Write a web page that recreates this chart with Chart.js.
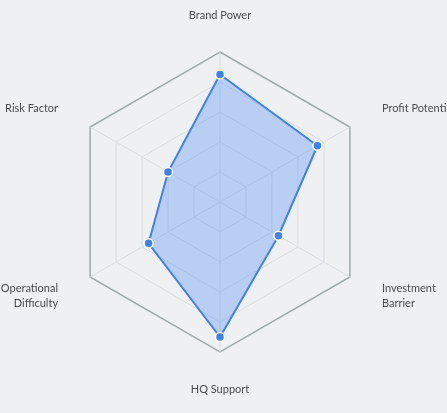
<!DOCTYPE html>
<html>
<head>
<meta charset="utf-8">
<script src="https://cdn.jsdelivr.net/npm/chart.js@4.4.1/dist/chart.umd.min.js"></script>
<style>
  html, body { margin: 0; padding: 0; background: #eef0f2; overflow: hidden; }
  #wrap { width: 447px; height: 413px; }
</style>
</head>
<body>
<div id="wrap"><canvas id="RadarChart"></canvas></div>
<script>
var labels = ["Brand Power", "Profit Potential", ["Investment", "Barrier"], "HQ Support", ["Operational", "Difficulty"], "Risk Factor"];
var scores = [85, 75, 45, 90, 55, 40];
var scaleMin = 0;
var scaleMax = 100;
var scaleStep = 20;

// labels drawn like the original: anchored on the axis end, vertically centred
var axisNames = {
  id: "axisNames",
  afterDraw: function (chart) {
    var s = chart.scales.r;
    var ctx = chart.ctx;
    var lh = 15;
    ctx.save();
    ctx.font = "11px Lato";
    ctx.fillStyle = "#4a4c4f";
    ctx.textBaseline = "middle";
    for (var i = 0; i < labels.length; i++) {
      var p = s.getPointPosition(i, s.drawingArea + 37);
      var dx = p.x - s.xCenter;
      ctx.textAlign = Math.abs(dx) < 1 ? "center" : (dx > 0 ? "left" : "right");
      var lines = Array.isArray(labels[i]) ? labels[i] : [labels[i]];
      var y0 = p.y - (lines.length - 1) * lh / 2;
      for (var j = 0; j < lines.length; j++) {
        ctx.fillText(lines[j], p.x, y0 + j * lh);
      }
    }
    ctx.restore();
  }
};

var ctx = document.getElementById("RadarChart").getContext("2d");
var chart = new Chart(ctx, {
  type: "radar",
  data: {
    labels: labels,
    datasets: [
      {
        label: "Score",
        data: scores,
        borderColor: "#3b82f6",
        backgroundColor: "rgba(59, 130, 246, 0.3)",
        borderWidth: 2,
        pointBackgroundColor: "#3b82f6",
        pointBorderColor: "#ffffff",
        pointBorderWidth: 1.5,
        pointRadius: 4.5,
        fill: true
      }
    ]
  },
  options: {
    responsive: true,
    maintainAspectRatio: false,
    animation: false,
    layout: {
      padding: { left: 0, right: 6, top: 52, bottom: 61 }
    },
    plugins: {
      legend: { display: false },
      tooltip: { enabled: false }
    },
    scales: {
      r: {
        min: scaleMin,
        max: scaleMax,
        ticks: { display: false, stepSize: scaleStep },
        pointLabels: { display: false },
        angleLines: { color: "#d9dee2", lineWidth: 1 },
        grid: {
          color: function (c) { return c.index === 5 ? "#a2abaa" : "#d9dee2"; },
          lineWidth: function (c) { return c.index === 5 ? 1.5 : 1; }
        }
      }
    }
  },
  plugins: [axisNames]
});
</script>
</body>
</html>
